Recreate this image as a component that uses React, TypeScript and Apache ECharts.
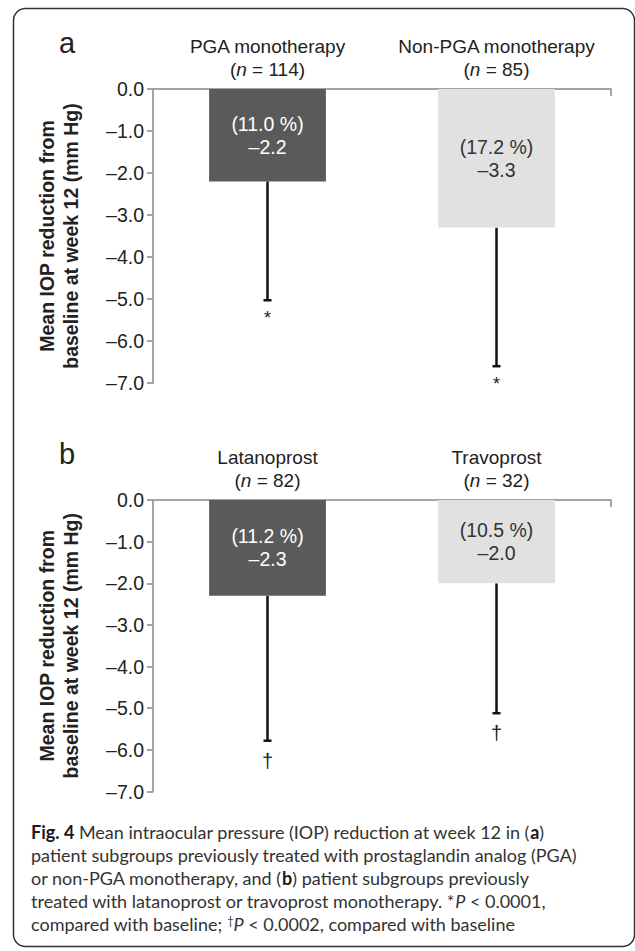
import React, { useEffect, useRef } from 'react';
import * as echarts from 'echarts';

// ---------- data ----------
const categoriesA = ['PGA monotherapy', 'Non-PGA monotherapy'];
const sampleSizesA = [114, 85];
const meanReductionA = [-2.2, -3.3];
const percentReductionA = [11.0, 17.2];
const errorLowA = [-5.03, -6.6];
const markersA = ['*', '*'];

const categoriesB = ['Latanoprost', 'Travoprost'];
const sampleSizesB = [82, 32];
const meanReductionB = [-2.3, -2.0];
const percentReductionB = [11.2, 10.5];
const errorLowB = [-5.78, -5.12];
const markersB = ['\u2020', '\u2020'];

const yMin = -7;
const yMax = 0;
const yStep = 1;

const panelLetters = ['a', 'b'];
const yAxisTitle = 'Mean IOP reduction from\nbaseline at week 12 (mm Hg)';

const captionLines = [
  '{b|Fig. 4} Mean intraocular pressure (IOP) reduction at week 12 in ({b|a})',
  'patient subgroups previously treated with prostaglandin analog (PGA)',
  'or non-PGA monotherapy, and ({b|b}) patient subgroups previously',
  'treated with latanoprost or travoprost monotherapy. *{i|P} < 0.0001,',
  'compared with baseline; {sup|\u2020}{i|P} < 0.0002, compared with baseline',
];

const barColors = ['#5a5a5a', '#e1e1e1'];
const barLabelColors = ['#ffffff', '#333333'];

// ---------- helpers ----------
const FONT = '"Liberation Sans", Arial, Helvetica, sans-serif';
const CAP_FONT = 'Lato, "Open Sans", sans-serif';
const fmt = (v: number) => (v < 0 ? '\u2013' : '') + Math.abs(v).toFixed(1);

export default function App() {
  const ref = useRef<HTMLDivElement>(null);

  useEffect(() => {
    document.body.style.margin = '0';
    if (!ref.current) return;
    const chart = echarts.init(ref.current, undefined, { renderer: 'svg' });

    const grids = [
      { left: 153, right: 24, top: 89, height: 294 },
      { left: 153, right: 24, top: 500, height: 291.5 },
    ];

    const panels = [
      { cats: categoriesA, n: sampleSizesA, mean: meanReductionA, pct: percentReductionA, low: errorLowA, marks: markersA },
      { cats: categoriesB, n: sampleSizesB, mean: meanReductionB, pct: percentReductionB, low: errorLowB, marks: markersB },
    ];

    const xAxes = panels.map((p, i) => ({
      type: 'category',
      gridIndex: i,
      data: p.cats,
      position: 'top',
      axisLine: { show: true, onZero: false, lineStyle: { color: '#a3a3a3', width: 2 } },
      axisTick: {
        show: true,
        inside: true,
        length: 7,
        interval: (idx: number) => idx === p.cats.length - 1,
        lineStyle: { color: '#a3a3a3', width: 2 },
      },
      axisLabel: {
        interval: 0,
        margin: 8,
        formatter: (value: string, idx: number) =>
          `{t|${value}}\n{t|(}{i|n}{t| = ${p.n[idx]})}`,
        rich: {
          t: { fontFamily: FONT, fontSize: 19, color: '#222', lineHeight: 23 },
          i: { fontFamily: FONT, fontSize: 19, color: '#222', lineHeight: 23, fontStyle: 'italic' },
        },
      },
    }));

    const yAxes = panels.map((p, i) => ({
      type: 'value',
      gridIndex: i,
      min: yMin,
      max: yMax,
      interval: yStep,
      name: yAxisTitle,
      nameLocation: 'middle',
      nameGap: 70,
      nameTextStyle: {
        fontFamily: FONT,
        fontSize: 19.5,
        fontWeight: 'bold',
        color: '#222',
        lineHeight: 24,
        align: 'center',
      },
      axisLine: { show: true, lineStyle: { color: '#a3a3a3', width: 2 } },
      axisTick: { show: true, inside: false, length: 6, lineStyle: { color: '#a3a3a3', width: 2 } },
      splitLine: { show: false },
      axisLabel: {
        margin: 9,
        fontFamily: FONT,
        fontSize: 19.5,
        color: '#222',
        formatter: (v: number) => fmt(v),
      },
    }));

    const barSeries = panels.map((p, i) => ({
      type: 'bar',
      xAxisIndex: i,
      yAxisIndex: i,
      barWidth: '51%',
      data: p.mean.map((v, k) => ({
        value: v,
        itemStyle: { color: barColors[k] },
        label: {
          show: true,
          position: 'inside',
          formatter: `(${p.pct[k].toFixed(1)} %)\n${fmt(v)}`,
          fontFamily: FONT,
          fontSize: 19.5,
          lineHeight: 23,
          color: barLabelColors[k],
        },
      })),
    }));

    const errSeries = panels.map((p, i) => ({
      type: 'custom',
      xAxisIndex: i,
      yAxisIndex: i,
      encode: { x: 0, y: [1, 2] },
      data: p.mean.map((v, k) => [k, v, p.low[k]]),
      renderItem: (params: any, api: any) => {
        const top = api.coord([api.value(0), api.value(1)]);
        const bot = api.coord([api.value(0), api.value(2)]);
        const mark = p.marks[params.dataIndex];
        const isStar = mark === '*';
        return {
          type: 'group',
          children: [
            {
              type: 'line',
              shape: { x1: top[0], y1: top[1], x2: bot[0], y2: bot[1] },
              style: { stroke: '#111', lineWidth: 2.5 },
            },
            {
              type: 'line',
              shape: { x1: bot[0] - 4, y1: bot[1], x2: bot[0] + 4, y2: bot[1] },
              style: { stroke: '#111', lineWidth: 2.5 },
            },
            {
              type: 'text',
              x: bot[0],
              y: bot[1] + (isStar ? 18 : 20),
              style: {
                text: mark,
                align: 'center',
                verticalAlign: 'middle',
                fontFamily: FONT,
                fontSize: isStar ? 18 : 20,
                fill: '#222',
              },
            },
          ],
        };
      },
    }));

    const graphic: any[] = [
      {
        type: 'rect',
        z: -10,
        shape: { x: 13.5, y: 8.5, width: 621, height: 938, r: 12 },
        style: { fill: 'none', stroke: '#333', lineWidth: 1.5 },
      },
      {
        type: 'text',
        x: 67,
        y: 43,
        style: { text: panelLetters[0], align: 'center', verticalAlign: 'middle', fontFamily: FONT, fontSize: 29, fill: '#222' },
      },
      {
        type: 'text',
        x: 67,
        y: 454,
        style: { text: panelLetters[1], align: 'center', verticalAlign: 'middle', fontFamily: FONT, fontSize: 29, fill: '#222' },
      },
      ...captionLines.map((line, k) => ({
        type: 'text',
        x: 31,
        y: 832 + k * 23,
        style: {
          text: line,
          align: 'left',
          verticalAlign: 'middle',
          fontFamily: CAP_FONT,
          fontSize: 18,
          fill: '#333',
          rich: {
            b: { fontFamily: CAP_FONT, fontSize: 18, fontWeight: 'bold', fill: '#1a1a1a' },
            i: { fontFamily: CAP_FONT, fontSize: 18, fontStyle: 'italic', fill: '#333' },
            sup: { fontFamily: CAP_FONT, fontSize: 11, fill: '#333', verticalAlign: 'top' },
          },
        },
      })),
    ];

    chart.setOption({
      animation: false,
      backgroundColor: '#ffffff',
      grid: grids,
      xAxis: xAxes,
      yAxis: yAxes,
      series: [...barSeries, ...errSeries],
      graphic,
    });

    return () => chart.dispose();
  }, []);

  return <div ref={ref} style={{ width: 635, height: 951 }} />;
}
